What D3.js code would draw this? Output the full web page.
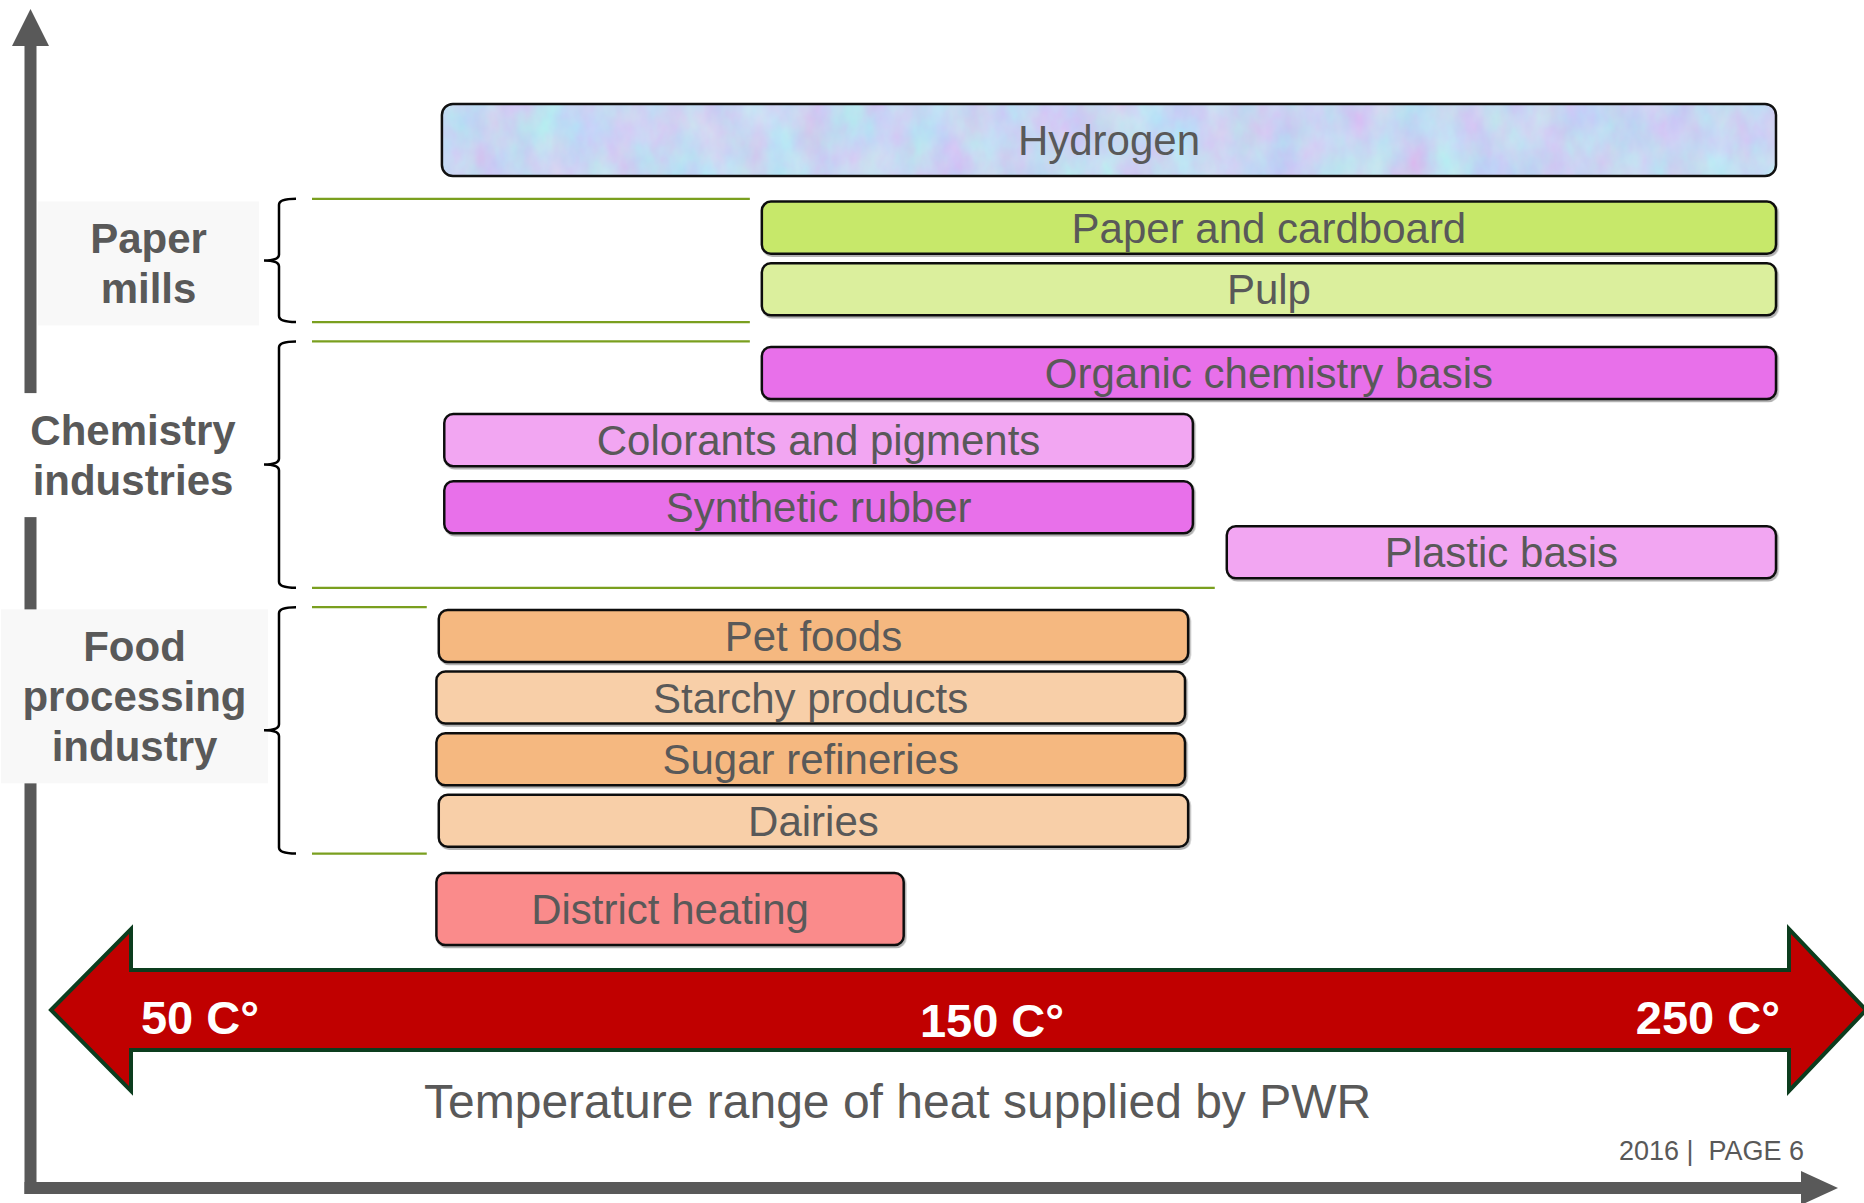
<!DOCTYPE html>
<html>
<head>
<meta charset="utf-8">
<script src="https://cdn.jsdelivr.net/npm/d3@7"></script>
<style>
  html, body { margin: 0; padding: 0; background: #ffffff; }
  svg { display: block; font-family: "Liberation Sans", Arial, sans-serif; }
</style>
</head>
<body>
<script>
// ---------------- DATA ----------------
const categories = [
  "Hydrogen",
  "Paper and cardboard",
  "Pulp",
  "Organic chemistry basis",
  "Colorants and pigments",
  "Synthetic rubber",
  "Plastic basis",
  "Pet foods",
  "Starchy products",
  "Sugar refineries",
  "Dairies",
  "District heating"
];
const groups = [
  "",
  "Paper mills", "Paper mills",
  "Chemistry industries", "Chemistry industries", "Chemistry industries", "Chemistry industries",
  "Food processing industry", "Food processing industry", "Food processing industry", "Food processing industry",
  ""
];
// temperature range (°C) covered by each application
const tempStart = [80.7, 121.3, 121.3, 121.3, 81, 81, 180.3, 80.3, 80, 80, 80.3, 80];
const tempEnd   = [250, 250, 250, 250, 176, 176, 250, 175.4, 175, 175, 175.4, 139.3];
const tickValues = [50, 150, 250];
const tickLabels = ["50 C°", "150 C°", "250 C°"];
const axisTitle = "Temperature range of heat supplied by PWR";
const footerText = "2016 |  PAGE 6";

// ---------------- STYLES ----------------
const barColors = {
  "Hydrogen": "url-texture",
  "Paper and cardboard": "#c7e86b",
  "Pulp": "#dbef9d",
  "Organic chemistry basis": "#e870ea",
  "Colorants and pigments": "#f2a6f2",
  "Synthetic rubber": "#e870ea",
  "Plastic basis": "#f2a6f2",
  "Pet foods": "#f5b880",
  "Starchy products": "#f8cfa8",
  "Sugar refineries": "#f5b880",
  "Dairies": "#f8cfa8",
  "District heating": "#fa8b8b"
};
const labelStyle = {
  "Paper mills":              { cx: 148.5, w: 221, nudge: 3,    fill: "#f8f8f8" },
  "Chemistry industries":     { cx: 133,   w: 236, nudge: -9.5, fill: "#ffffff" },
  "Food processing industry": { cx: 134.5, w: 267, nudge: -34,  fill: "#f8f8f8" }
};
const GRAY = "#595959";
const GREEN = "#7a9f1f";

const W = 1864, H = 1203;
const svg = d3.select("body").append("svg").attr("width", W).attr("height", H);

// texture for hydrogen bar
const defs = svg.append("defs");
const f = defs.append("filter").attr("id", "tex")
  .attr("x", 0).attr("y", 0).attr("width", 1).attr("height", 1)
  .attr("color-interpolation-filters", "sRGB");
f.append("feTurbulence").attr("type", "fractalNoise")
  .attr("baseFrequency", "0.03 0.02").attr("numOctaves", 4).attr("seed", 7).attr("result", "noise");
f.append("feColorMatrix").attr("in", "noise").attr("type", "matrix")
  .attr("values", "0.2 0 0 0 0.68  -0.12 0.17 0 0 0.815  0 0 0.06 0 0.92  0 0 0 0 1")
  .attr("result", "col");
f.append("feComposite").attr("in", "col").attr("in2", "SourceGraphic").attr("operator", "in");

const shadow = defs.append("filter").attr("id", "shadow")
  .attr("x", -0.05).attr("y", -0.2).attr("width", 1.1).attr("height", 1.5);
shadow.append("feDropShadow").attr("dx", 1.5).attr("dy", 2).attr("stdDeviation", 0.6)
  .attr("flood-color", "#000").attr("flood-opacity", 0.3);

// ---------------- SCALES ----------------
const x = d3.scaleLinear().domain([50, 250]).range([200, 1776]);

// group consecutive rows into segments
const segs = [];
categories.forEach((c, i) => {
  const g = groups[i];
  const last = segs[segs.length - 1];
  if (g && last && last.group === g) last.rows.push(i);
  else segs.push({ group: g, rows: [i] });
});
let u = 0;
segs.forEach((s, k) => {
  if (k > 0) u += (k === 1 ? 0.37 : 0.315);
  s.size = s.group ? s.rows.length : 1.17;
  s.u0 = u; u += s.size; s.u1 = u;
});
const y = d3.scaleLinear().domain([0, u]).range([104, 945]);
const unitPx = y(1) - y(0);
const rowPos = {};
segs.forEach(s => {
  if (!s.group) {
    s.rows.forEach(i => rowPos[i] = { y: y(s.u0), h: y(s.u1) - y(s.u0) });
    return;
  }
  // rows whose range does not overlap the previous row may be staggered upward
  let cum = 0;
  const centers = s.rows.map((i, k) => {
    if (k > 0) {
      const prev = s.rows[k - 1];
      cum += (tempStart[i] >= tempEnd[prev]) ? 0.67 : 1;
    }
    return cum;
  });
  const inner = d3.scaleLinear().domain([0, cum + 1]).range([y(s.u0), y(s.u1)]);
  const bh = 0.845 * unitPx;
  s.rows.forEach((i, k) => {
    const c = inner(centers[k] + 0.5) - 2;
    rowPos[i] = { y: c - bh / 2, h: bh };
  });
});

// ---------------- AXES (decorative arrows) ----------------
const axisG = svg.append("g").attr("fill", GRAY);
axisG.append("rect").attr("x", 24.5).attr("y", 40).attr("width", 12).attr("height", 1154);
axisG.append("path").attr("d", "M30.5,9 L12,46 L49,46 Z");
axisG.append("rect").attr("x", 24.5).attr("y", 1182).attr("width", 1780).attr("height", 12);
axisG.append("path").attr("d", "M1801,1171 L1838,1188 L1801,1205 Z");

// ---------------- GROUP LABELS, BRACES, GUIDE LINES ----------------
segs.filter(s => s.group).forEach(s => {
  const y0 = y(s.u0), y1 = y(s.u1), ym = (y0 + y1) / 2;
  const st = labelStyle[s.group];
  const lines = s.group.split(" ");
  const h = 74 + 50 * (lines.length - 1);
  const top = ym + st.nudge - h / 2;
  svg.append("rect").attr("x", st.cx - st.w / 2).attr("y", top)
    .attr("width", st.w).attr("height", h).attr("fill", st.fill);
  svg.append("text").attr("text-anchor", "middle").attr("fill", GRAY)
    .attr("font-weight", "bold").attr("font-size", 42)
    .selectAll("tspan").data(lines).join("tspan")
    .attr("x", st.cx).attr("y", (d, i) => top + 52 + 50 * i).text(d => d);

  // brace
  const xe = 296, xv = 279, xt = 264, r = 6;
  const p = d3.path();
  p.moveTo(xe, y0);
  p.quadraticCurveTo(xv, y0, xv, y0 + r);
  p.lineTo(xv, ym - r);
  p.quadraticCurveTo(xv, ym, xt, ym);
  p.quadraticCurveTo(xv, ym, xv, ym + r);
  p.lineTo(xv, y1 - r);
  p.quadraticCurveTo(xv, y1, xe, y1);
  svg.append("path").attr("d", p.toString()).attr("fill", "none")
    .attr("stroke", "#000").attr("stroke-width", 2.5);

  // guide lines
  const first = s.rows[0], last = s.rows[s.rows.length - 1];
  [[y0, x(tempStart[first]) - 12], [y1, x(tempStart[last]) - 12]].forEach(([yy, xend]) => {
    svg.append("line").attr("x1", 312).attr("x2", xend).attr("y1", yy).attr("y2", yy)
      .attr("stroke", GREEN).attr("stroke-width", 2.2);
  });
});

// ---------------- BARS ----------------
const barG = svg.append("g");
categories.forEach((c, i) => {
  const x0 = x(tempStart[i]), x1 = x(tempEnd[i]);
  const { y: yy, h } = rowPos[i];
  const g = barG.append("g");
  if (barColors[c] === "url-texture") {
    g.append("rect").attr("x", x0).attr("y", yy).attr("width", x1 - x0).attr("height", h)
      .attr("rx", 11).attr("fill", "#c4d2f4").attr("filter", "url(#tex)");
    g.append("rect").attr("x", x0).attr("y", yy).attr("width", x1 - x0).attr("height", h)
      .attr("rx", 11).attr("fill", "none").attr("stroke", "#111").attr("stroke-width", 2.5);
  } else {
    g.append("rect").attr("x", x0).attr("y", yy).attr("width", x1 - x0).attr("height", h)
      .attr("rx", 9).attr("fill", barColors[c]).attr("stroke", "#111").attr("stroke-width", 2.5)
      .attr("filter", "url(#shadow)");
  }
  g.append("text").attr("x", (x0 + x1) / 2).attr("y", yy + h / 2 + 15)
    .attr("text-anchor", "middle").attr("font-size", 42).attr("fill", GRAY).text(c);
});

// ---------------- TEMPERATURE ARROW ----------------
const [xa, xb] = x.range();
const cy = 1010;
const arrowPts = [
  [xa - 149, cy], [xa - 69, cy - 81], [xa - 69, cy - 40], [xb + 13, cy - 40], [xb + 13, cy - 81],
  [xb + 90, cy], [xb + 13, cy + 81], [xb + 13, cy + 40], [xa - 69, cy + 40], [xa - 69, cy + 81]
];
svg.append("path").attr("d", d3.line()(arrowPts) + "Z")
  .attr("fill", "#c00000").attr("stroke", "#0c3d1e").attr("stroke-width", 4)
  .attr("stroke-linejoin", "miter");

svg.append("g").selectAll("text").data(tickValues).join("text")
  .attr("x", (d, i) => i === tickValues.length - 1 ? x(d) + 4 : x(d) + (i === 1 ? 4 : 0))
  .attr("y", (d, i) => i === 1 ? 1037 : 1034)
  .attr("text-anchor", (d, i) => i === tickValues.length - 1 ? "end" : "middle")
  .attr("fill", "#ffffff").attr("font-weight", "bold").attr("font-size", 47)
  .text((d, i) => tickLabels[i]);

svg.append("text").attr("x", 424).attr("y", 1118).attr("font-size", 48)
  .attr("fill", GRAY).text(axisTitle);

svg.append("text").attr("x", 1804).attr("y", 1160).attr("text-anchor", "end")
  .attr("font-size", 27).attr("fill", GRAY).attr("xml:space", "preserve")
  .style("white-space", "pre").text(footerText);
</script>
</body>
</html>
